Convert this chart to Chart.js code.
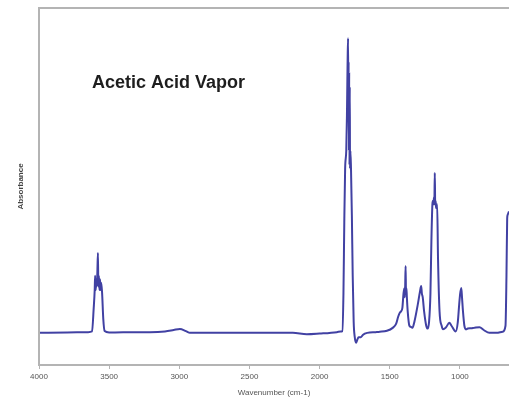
<!DOCTYPE html>
<html>
<head>
<meta charset="utf-8">
<script src="https://cdn.jsdelivr.net/npm/chart.js@4.4.1/dist/chart.umd.min.js"></script>
<style>
  html, body { margin: 0; padding: 0; background: #fff; }
  #wrap { width: 509px; height: 398px; }
</style>
</head>
<body>
<div id="wrap"><canvas id="chartSpectrum"></canvas></div>
<script>
'use strict';

////////////////////////////
/// data
const chartTitle = 'Acetic Acid Vapor';
const xTitle = 'Wavenumber (cm-1)';
const yTitle = 'Absorbance';
const xTicks = [4000, 3500, 3000, 2500, 2000, 1500, 1000];

const wavenumbers = [
  4000, 3800, 3650, 3622, 3610, 3603, 3600, 3596, 3592, 3588, 3584, 3580,
  3577, 3573, 3569, 3565, 3561, 3556, 3550, 3542, 3532, 3500, 3300, 3209,
  3102, 3040, 2996, 2953, 2924, 2700, 2497, 2191, 2091, 2000, 1877, 1849,
  1838, 1830, 1824, 1818, 1810, 1805, 1802, 1800, 1797, 1795, 1793, 1791,
  1789, 1787, 1785, 1783, 1780, 1776, 1770, 1764, 1757, 1750, 1740, 1732,
  1722, 1705, 1690, 1660, 1600, 1571, 1520, 1479, 1455, 1440, 1429, 1420,
  1410, 1402, 1396, 1393, 1390, 1387, 1384, 1381, 1378, 1372, 1360, 1345,
  1338, 1325, 1300, 1285, 1276, 1271, 1265, 1255, 1240, 1230, 1220, 1210,
  1203, 1196, 1192, 1188, 1185, 1182, 1179, 1176, 1173, 1170, 1162, 1156,
  1145, 1130, 1120, 1100, 1075, 1060, 1030, 1015, 1005, 998, 990, 985,
  978, 968, 955, 944, 920, 900, 860, 830, 790, 740, 695, 675, 668, 663,
  660, 650
];
const absorbance = [
  0.090, 0.091, 0.092, 0.094, 0.160, 0.210, 0.250, 0.210, 0.240, 0.220, 0.260, 0.314,
  0.220, 0.250, 0.210, 0.240, 0.210, 0.230, 0.200, 0.130, 0.095, 0.091, 0.092, 0.092,
  0.094, 0.098, 0.101, 0.095, 0.090, 0.090, 0.090, 0.090, 0.086, 0.088, 0.092, 0.094,
  0.095, 0.200, 0.400, 0.550, 0.600, 0.700, 0.800, 0.860, 0.915, 0.720, 0.850, 0.600,
  0.820, 0.560, 0.780, 0.550, 0.600, 0.546, 0.420, 0.250, 0.120, 0.080, 0.062, 0.070,
  0.078, 0.078, 0.085, 0.090, 0.092, 0.093, 0.096, 0.104, 0.115, 0.135, 0.146, 0.150,
  0.160, 0.200, 0.215, 0.190, 0.220, 0.277, 0.200, 0.215, 0.190, 0.150, 0.110, 0.106,
  0.104, 0.120, 0.170, 0.205, 0.221, 0.200, 0.190, 0.150, 0.110, 0.102, 0.120, 0.200,
  0.350, 0.450, 0.460, 0.450, 0.470, 0.450, 0.538, 0.450, 0.460, 0.440, 0.450, 0.300,
  0.150, 0.110, 0.100, 0.105, 0.118, 0.110, 0.094, 0.120, 0.170, 0.200, 0.216, 0.190,
  0.150, 0.110, 0.100, 0.102, 0.103, 0.104, 0.106, 0.098, 0.090, 0.090, 0.093, 0.110,
  0.250, 0.410, 0.420, 0.430
];

/// styles
const lineColor = '#4141a3';
const frameColor = '#b4b4b4';
const textGrey = '#555';

const points = wavenumbers.map((w, i) => ({ x: w, y: absorbance[i] }));

//////////////////////////////////////////////////////
/// plugins
// frame on left, top and bottom (right side is cut off in the picture)
const framePlugin = {
  id: 'frame',
  afterDraw(chart) {
    const { ctx, chartArea: a } = chart;
    ctx.save();
    ctx.strokeStyle = frameColor;
    ctx.lineWidth = 2;
    ctx.beginPath();
    ctx.moveTo(a.right + 2, a.top);
    ctx.lineTo(a.left, a.top);
    ctx.lineTo(a.left, a.bottom);
    ctx.lineTo(a.right + 2, a.bottom);
    ctx.stroke();
    ctx.restore();
  },
};

// label drawn inside the plot area
const labelPlugin = {
  id: 'insideLabel',
  afterDraw(chart) {
    const { ctx, chartArea: a } = chart;
    ctx.save();
    ctx.font = 'bold 18px Arial, "Liberation Sans", sans-serif';
    ctx.fillStyle = '#1e1e1e';
    ctx.textBaseline = 'alphabetic';
    ctx.fillText(chartTitle, a.left + 53, a.top + 80);
    ctx.restore();
  },
};

//////////////////////////////////////////////////////
/// chart
const configSpectrum = {
  type: 'line',
  data: {
    datasets: [
      {
        label: chartTitle,
        data: points,
        borderColor: lineColor,
        borderWidth: 2,
        pointRadius: 0,
        cubicInterpolationMode: 'monotone',
        fill: false,
      },
    ],
  },
  options: {
    responsive: true,
    maintainAspectRatio: false,
    animation: false,
    layout: { padding: { top: 8, right: 0, bottom: 0, left: 0 } },
    plugins: {
      legend: { display: false },
      tooltip: { enabled: false },
    },
    scales: {
      x: {
        type: 'linear',
        reverse: true,
        min: 650,
        max: 4000,
        afterFit: (s) => { s.height = 33; },
        afterBuildTicks: (s) => { s.ticks = xTicks.map((v) => ({ value: v })); },
        border: { display: false },
        grid: {
          drawOnChartArea: false,
          drawTicks: true,
          tickLength: 4,
          color: frameColor,
        },
        ticks: {
          padding: 3,
          maxRotation: 0,
          autoSkip: false,
          color: textGrey,
          font: { family: 'Arial', size: 8 },
          callback: (v) => String(v),
        },
        title: {
          display: true,
          text: xTitle,
          color: textGrey,
          padding: { top: 2, bottom: 0 },
          font: { family: 'Arial', size: 8 },
        },
      },
      y: {
        min: 0,
        max: 1,
        afterFit: (s) => { s.width = 39; },
        border: { display: false },
        grid: { display: false },
        ticks: { display: false },
        title: {
          display: true,
          text: yTitle,
          color: '#444',
          padding: { top: 16, bottom: 0 },
          font: { family: 'Arial', size: 8, weight: 'bold' },
        },
      },
    },
  },
  plugins: [framePlugin, labelPlugin],
};

let chartSpectrum = new Chart(
  document.getElementById('chartSpectrum'),
  configSpectrum
);
</script>
</body>
</html>
